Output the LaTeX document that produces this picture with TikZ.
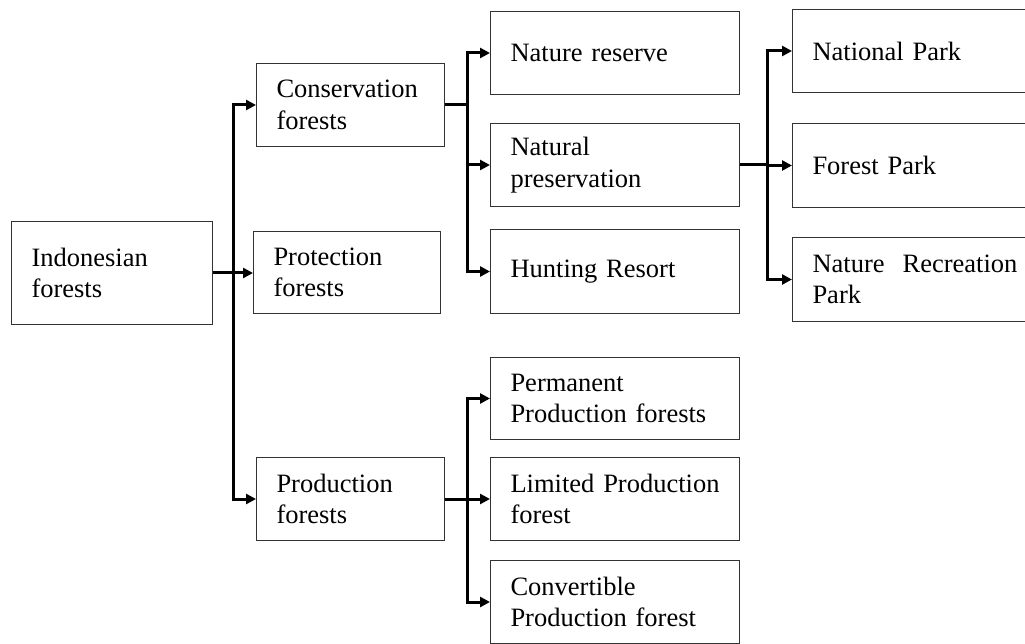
\documentclass[tikz,border=0pt]{standalone}
\usepackage{fontspec}
\setmainfont{Liberation Serif}
\usetikzlibrary{arrows.meta,calc}
\begin{document}
\begin{tikzpicture}[x=1pt,y=-1pt,
  box/.style={draw=black!80, line width=1pt, rectangle, anchor=north west,
    inner xsep=20pt, inner ysep=0pt, align=left,
    font=\fontsize{26.5}{31.7}\selectfont,
    execute at begin node={\hyphenpenalty=10000 \exhyphenpenalty=10000 }},
  link/.style={line width=3pt},
  arr/.style={link, -{Triangle[length=10pt,width=10pt]}}]
\useasboundingbox (0,0) rectangle (1025,644);
\clip (0,0) rectangle (1025,644);

% first level
\node[box, text width=161pt, minimum height=103pt] (ind) at (11,221) {Indonesian\\forests};
\node[box, text width=147pt, minimum height=82pt] (prot) at (253,231) {Protection\\forests};
\node[box, text width=148pt, minimum height=83pt] (cons) at (256,63) {Conservation\\forests};
\node[box, text width=148pt, minimum height=83pt] (prod) at (256,457) {Production\\forests};

% conservation forest types
\node[box, text width=209pt, minimum height=83pt] (nr) at (490,11) {Nature reserve};
\node[box, text width=209pt, minimum height=83pt] (np) at (490,123) {Natural\\preservation};
\node[box, text width=209pt, minimum height=84pt] (hr) at (490,229) {Hunting Resort};

% production forest types
\node[box, text width=209pt, minimum height=82pt] (perm) at (490,357) {Permanent\\Production~forests};
\node[box, text width=209pt, minimum height=83pt] (lim) at (490,457) {Limited~Production\\forest};
\node[box, text width=209pt, minimum height=83pt] (conv) at (490,560) {Convertible\\Production~forest};

% natural preservation types
\node[box, text width=220pt, minimum height=83pt] (natp) at (792,9) {National Park};
\node[box, text width=220pt, minimum height=84pt] (fp) at (792,123) {Forest Park};
\node[box, text width=220pt, minimum height=84pt] (nrp) at (792,237) {Nature\hspace{18pt}Recreation\\Park};

% connectors
\coordinate (j1) at ($(ind.east)!0.5!(prot.west)$);
\draw[arr] (ind.east) -- (ind.east -| prot.west);
\draw[arr] (j1) |- (cons.west);
\draw[arr] (j1) |- (prod.west);

\coordinate (j2) at ($(cons.east)+(22,0)$);
\draw[link] (cons.east) -- (j2);
\draw[arr] (j2) |- (nr.west);
\draw[arr] (j2) |- (np.west);
\draw[arr] (j2) |- (hr.west);

\coordinate (j3) at ($(np.east)+(27,0)$);
\draw[link] (np.east) -- (j3);
\draw[arr] (j3) |- (natp.west);
\draw[arr] (j3) |- (fp.west);
\draw[arr] (j3) |- (nrp.west);

\coordinate (j4) at ($(prod.east)+(22,0)$);
\draw[link] (prod.east) -- (j4);
\draw[arr] (j4) |- (perm.west);
\draw[arr] (j4) |- (lim.west);
\draw[arr] (j4) |- (conv.west);
\end{tikzpicture}
\end{document}
